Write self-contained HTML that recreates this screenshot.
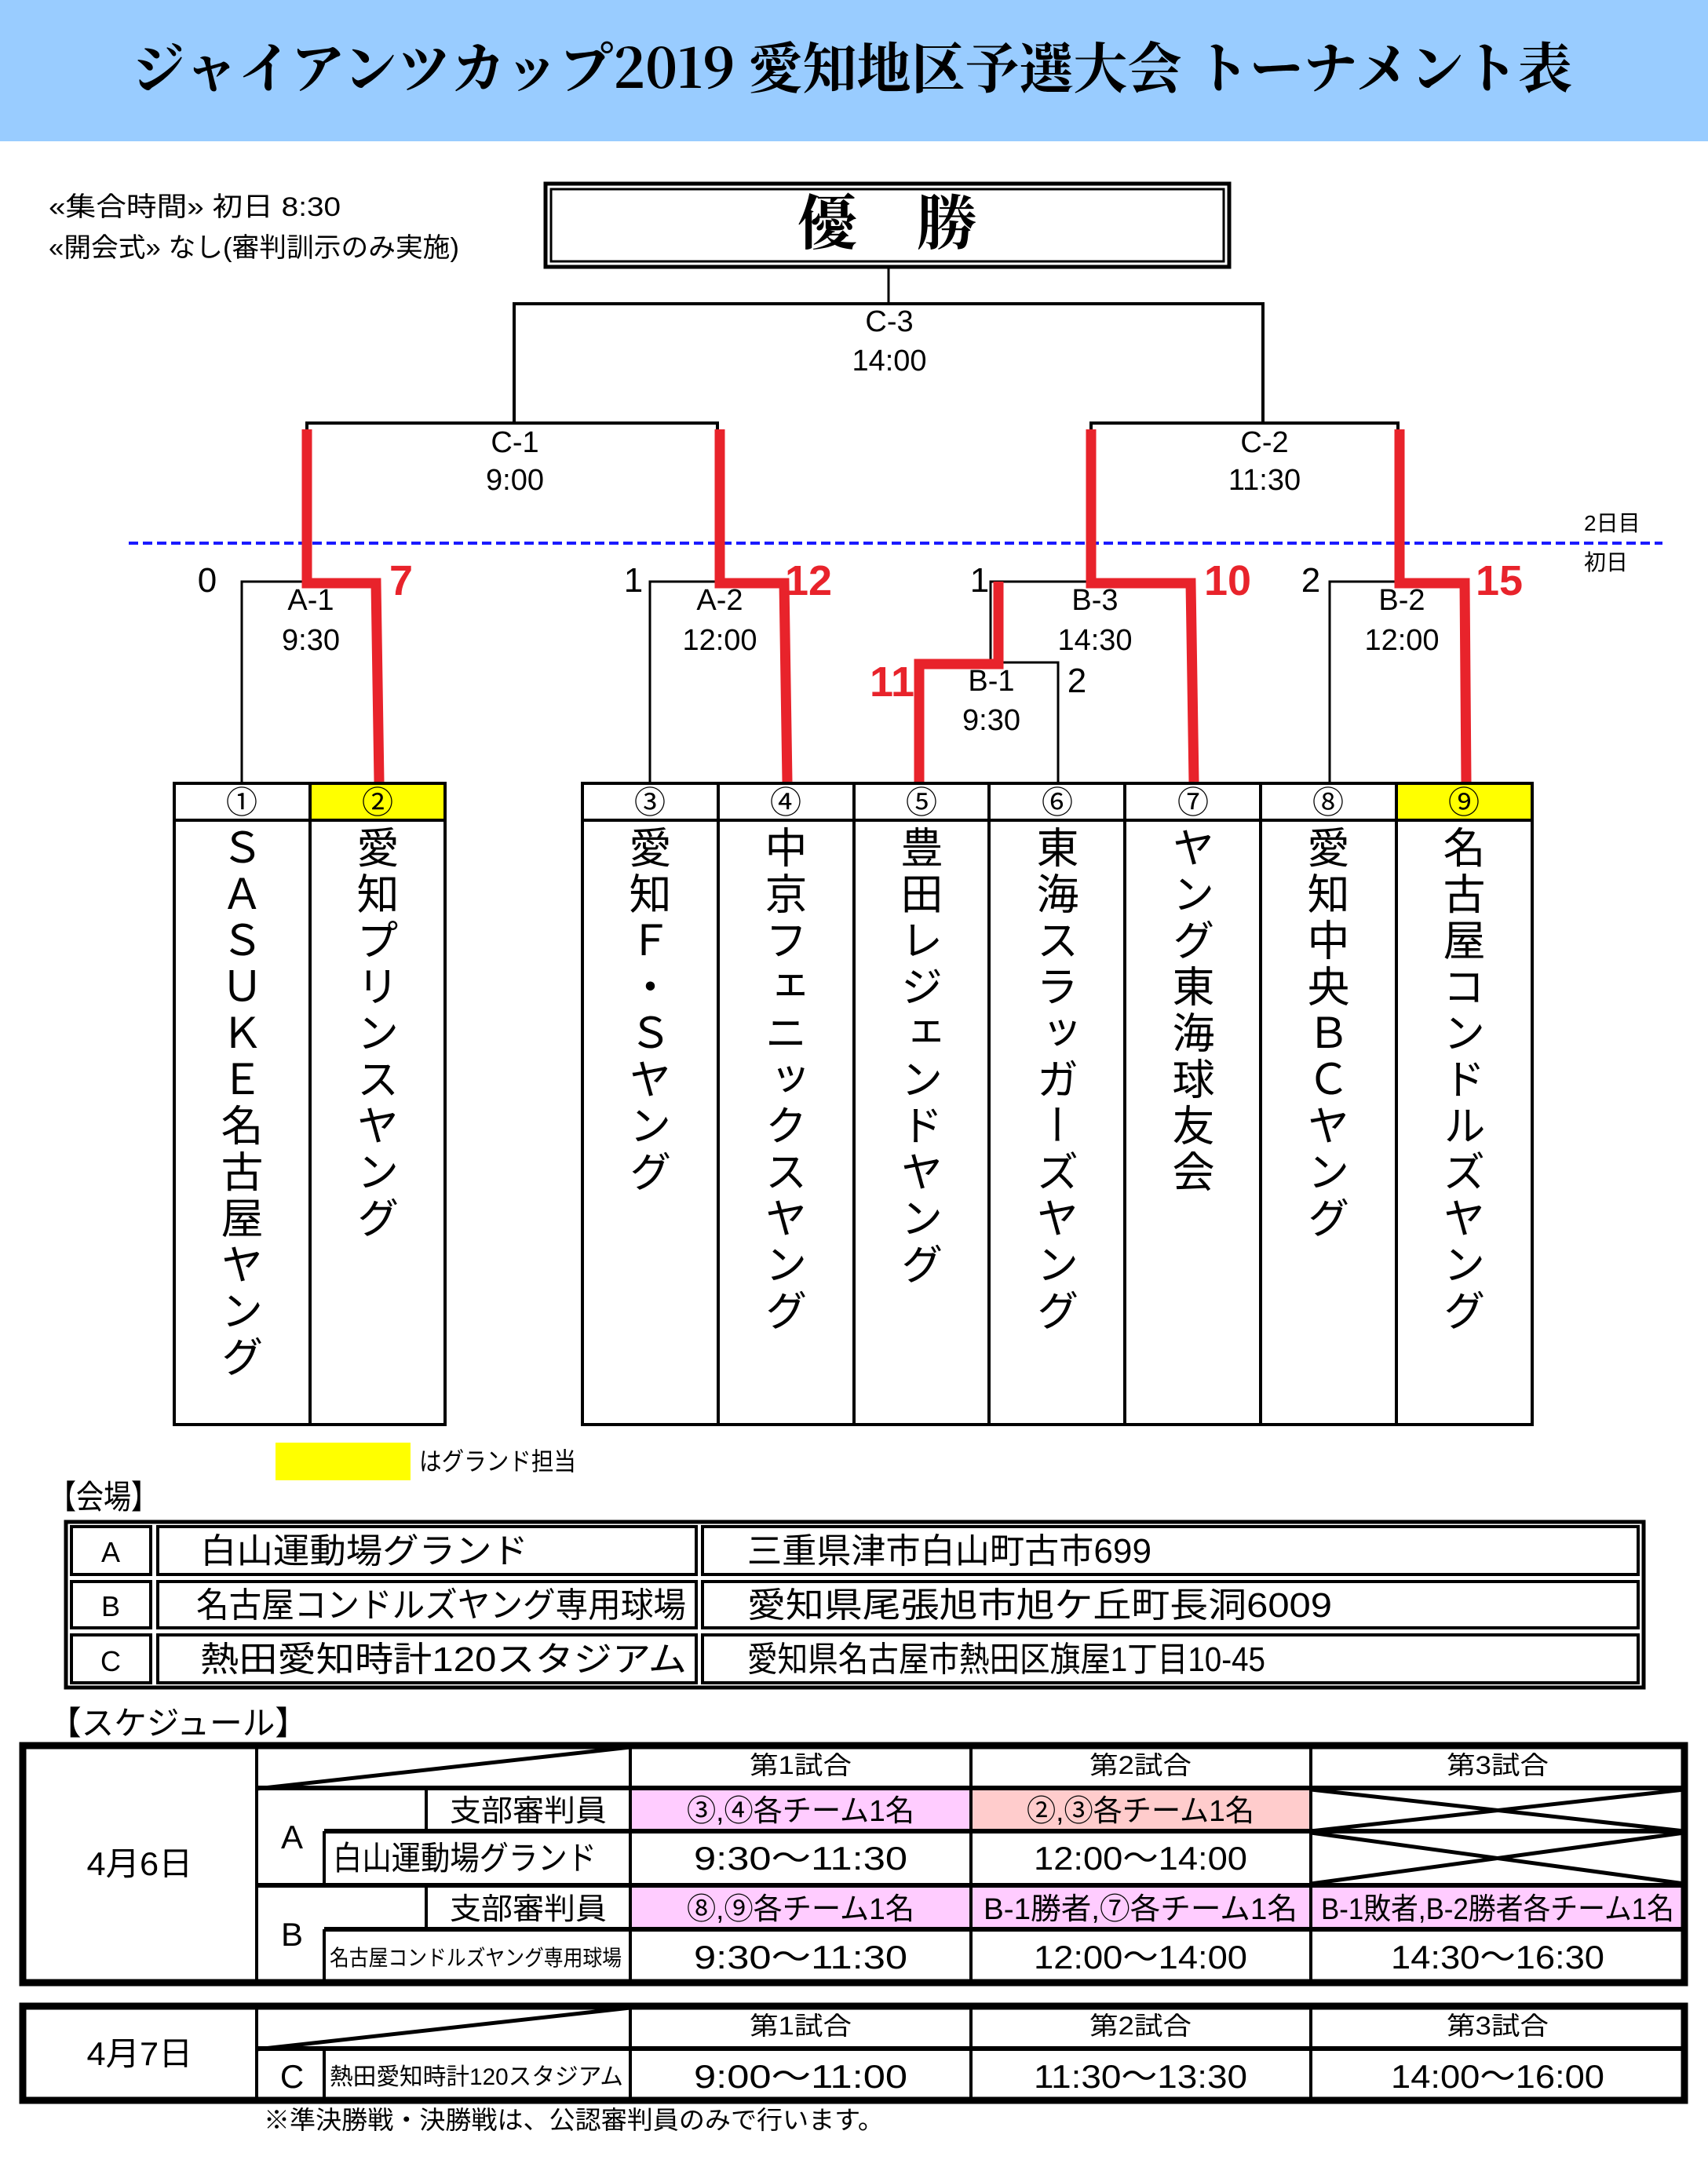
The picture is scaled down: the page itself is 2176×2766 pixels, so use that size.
<!DOCTYPE html>
<html><head><meta charset="utf-8">
<style>
html,body{margin:0;padding:0;background:#fff;}
body{width:2176px;height:2766px;position:relative;overflow:hidden;font-family:"Liberation Sans","Noto Sans CJK JP",sans-serif;}
svg{position:absolute;left:0;top:0;}
.v{position:absolute;writing-mode:vertical-rl;text-orientation:upright;font-size:54px;letter-spacing:5px;line-height:1;color:#000;font-family:"Noto Sans CJK JP",sans-serif;}
</style></head><body>
<svg width="2176" height="2766" viewBox="0 0 2176 2766" font-family="Liberation Sans, Noto Sans CJK JP, sans-serif">
<rect x="0" y="0" width="2176" height="180" fill="#99ccff"/>
<rect x="0" y="180" width="2176" height="2586" fill="#fff"/>
<text x="1085" y="112" text-anchor="middle" font-family="Noto Serif CJK JP, Noto Serif CJK SC, serif" font-weight="bold" font-size="70" textLength="1836" lengthAdjust="spacingAndGlyphs">ジャイアンツカップ2019 愛知地区予選大会 トーナメント表</text>

<text x="62" y="275" font-size="34" textLength="372" lengthAdjust="spacingAndGlyphs">«集合時間» 初日 8:30</text>
<text x="62" y="327" font-size="34" textLength="523" lengthAdjust="spacingAndGlyphs">«開会式» なし(審判訓示のみ実施)</text>

<rect x="695" y="234" width="871" height="106" fill="none" stroke="#000" stroke-width="5"/>
<rect x="702" y="241" width="857" height="92" fill="none" stroke="#000" stroke-width="3"/>
<text x="1130" y="311" text-anchor="middle" font-family="Noto Serif CJK JP, serif" font-weight="bold" font-size="76">優　勝</text>

<g stroke="#000" fill="none">
<line x1="1132" y1="340" x2="1132" y2="387" stroke-width="3"/>
<polyline points="655,537 655,387 1609,387 1609,537" stroke-width="4"/>
<polyline points="391,547 391,539 914,539 914,547" stroke-width="4"/>
<polyline points="1390,547 1390,539 1781,539 1781,547" stroke-width="4"/>
<polyline points="308,996 308,741 481,741" stroke-width="3"/>
<polyline points="828,996 828,741 1001,741" stroke-width="3"/>
<polyline points="1262,846 1262,741 1523,741" stroke-width="3"/>
<polyline points="1171,996 1171,844 1348,844 1348,996" stroke-width="3"/>
<polyline points="1694,996 1694,741 1868,741" stroke-width="3"/>
</g>
<line x1="164" y1="692" x2="2118" y2="692" stroke="#1a1aff" stroke-width="4" stroke-dasharray="12,6"/>
<text x="2018" y="676" font-size="28">2日目</text>
<text x="2018" y="726" font-size="28">初日</text>

<g font-size="38" text-anchor="middle">
<text x="1133" y="422">C-3</text><text x="1133" y="472">14:00</text>
<text x="656" y="576">C-1</text><text x="656" y="624">9:00</text>
<text x="1611" y="576">C-2</text><text x="1611" y="624">11:30</text>
<text x="396" y="777">A-1</text><text x="396" y="828">9:30</text>
<text x="917" y="777">A-2</text><text x="917" y="828">12:00</text>
<text x="1395" y="777">B-3</text><text x="1395" y="828">14:30</text>
<text x="1263" y="880">B-1</text><text x="1263" y="930">9:30</text>
<text x="1786" y="777">B-2</text><text x="1786" y="828">12:00</text>
<text x="264" y="754" font-size="44">0</text>
<text x="807" y="754" font-size="44">1</text>
<text x="1248" y="754" font-size="44">1</text>
<text x="1372" y="882" font-size="44">2</text>
<text x="1670" y="754" font-size="44">2</text>
</g>

<g stroke="#e8232b" stroke-width="13" fill="none" stroke-linejoin="miter">
<polyline points="391,547 391,743 479,743 483,996"/>
<polyline points="917,547 917,743 999,743 1003,996"/>
<polyline points="1390,547 1390,743 1517,743 1521,996"/>
<polyline points="1171,996 1171,846 1272,846 1272,741"/>
<polyline points="1783,547 1783,743 1866,743 1868,996"/>
</g>
<g fill="#e8232b" font-weight="bold" font-size="54" font-family="Liberation Sans, sans-serif">
<text x="496" y="758">7</text>
<text x="1000" y="758">12</text>
<text x="1534" y="758">10</text>
<text x="1108" y="887">11</text>
<text x="1880" y="758">15</text>
</g>

<rect x="395" y="998" width="172" height="47" fill="#ffff00"/>
<rect x="1779" y="998" width="173" height="47" fill="#ffff00"/>
<g stroke="#000" stroke-width="4" fill="none">
<rect x="222" y="998" width="345" height="817"/>
<line x1="222" y1="1045" x2="567" y2="1045"/>
<line x1="395" y1="998" x2="395" y2="1815"/>
<rect x="742" y="998" width="1210" height="817"/>
<line x1="742" y1="1045" x2="1952" y2="1045"/>
<line x1="915" y1="998" x2="915" y2="1815"/>
<line x1="1088" y1="998" x2="1088" y2="1815"/>
<line x1="1260" y1="998" x2="1260" y2="1815"/>
<line x1="1433" y1="998" x2="1433" y2="1815"/>
<line x1="1606" y1="998" x2="1606" y2="1815"/>
<line x1="1779" y1="998" x2="1779" y2="1815"/>
</g>
<g font-size="40" text-anchor="middle" font-family="Noto Sans CJK JP, sans-serif">
<text x="308" y="1036">①</text><text x="481" y="1036">②</text>
<text x="828" y="1036">③</text><text x="1001" y="1036">④</text><text x="1174" y="1036">⑤</text>
<text x="1347" y="1036">⑥</text><text x="1520" y="1036">⑦</text><text x="1692" y="1036">⑧</text><text x="1865" y="1036">⑨</text>
</g>

<rect x="351" y="1838" width="172" height="48" fill="#ffff00"/>
<text x="534" y="1873" font-size="32" textLength="200" lengthAdjust="spacingAndGlyphs">はグランド担当</text>

<text x="62" y="1922" font-size="42" textLength="140" lengthAdjust="spacingAndGlyphs">【会場】</text>
<rect x="84" y="1939" width="2010" height="211" fill="none" stroke="#000" stroke-width="5"/>
<g fill="none" stroke="#000" stroke-width="4">
<rect x="91" y="1945" width="101" height="61"/><rect x="201" y="1945" width="686" height="61"/><rect x="895" y="1945" width="1192" height="61"/>
<rect x="91" y="2015" width="101" height="59"/><rect x="201" y="2015" width="686" height="59"/><rect x="895" y="2015" width="1192" height="59"/>
<rect x="91" y="2083" width="101" height="61"/><rect x="201" y="2083" width="686" height="61"/><rect x="895" y="2083" width="1192" height="61"/>
</g>
<g font-size="44">
<text x="141" y="1990" text-anchor="middle" font-size="36">A</text>
<text x="141" y="2059" text-anchor="middle" font-size="36">B</text>
<text x="141" y="2129" text-anchor="middle" font-size="36">C</text>
<text x="255" y="1991" textLength="418" lengthAdjust="spacingAndGlyphs">白山運動場グランド</text>
<text x="250" y="2060" textLength="624" lengthAdjust="spacingAndGlyphs">名古屋コンドルズヤング専用球場</text>
<text x="255" y="2129" textLength="620" lengthAdjust="spacingAndGlyphs">熱田愛知時計120スタジアム</text>
<text x="952" y="1991" textLength="515" lengthAdjust="spacingAndGlyphs">三重県津市白山町古市699</text>
<text x="952" y="2060" textLength="745" lengthAdjust="spacingAndGlyphs">愛知県尾張旭市旭ケ丘町長洞6009</text>
<text x="952" y="2129" textLength="660" lengthAdjust="spacingAndGlyphs">愛知県名古屋市熱田区旗屋1丁目10-45</text>
</g>

<text x="62" y="2210" font-size="42" textLength="330" lengthAdjust="spacingAndGlyphs">【スケジュール】</text>
<rect x="803" y="2279" width="432" height="54" fill="#ffccff"/>
<rect x="1235" y="2279" width="434" height="54" fill="#ffcccc"/>
<rect x="803" y="2404" width="1343" height="54" fill="#ffccff"/>
<g stroke="#000" fill="none">
<rect x="29" y="2224" width="2117" height="302" stroke-width="9"/>
<line x1="327" y1="2224" x2="327" y2="2526" stroke-width="4"/>
<line x1="803" y1="2224" x2="803" y2="2526" stroke-width="4"/>
<line x1="1237" y1="2224" x2="1237" y2="2526" stroke-width="4"/>
<line x1="1670" y1="2224" x2="1670" y2="2526" stroke-width="4"/>
<line x1="327" y1="2278" x2="2146" y2="2278" stroke-width="6"/>
<line x1="327" y1="2279" x2="803" y2="2226" stroke-width="5"/>
<line x1="543" y1="2278" x2="543" y2="2333" stroke-width="4"/>
<line x1="413" y1="2333" x2="2146" y2="2333" stroke-width="6"/>
<line x1="413" y1="2333" x2="413" y2="2402" stroke-width="4"/>
<line x1="327" y1="2402" x2="2146" y2="2402" stroke-width="6"/>
<line x1="543" y1="2402" x2="543" y2="2458" stroke-width="4"/>
<line x1="413" y1="2458" x2="2146" y2="2458" stroke-width="6"/>
<line x1="413" y1="2458" x2="413" y2="2526" stroke-width="4"/>
<polyline points="1670,2280 2146,2333 1670,2333 2146,2280 z" stroke-width="5"/>
<line x1="1670" y1="2335" x2="2146" y2="2400" stroke-width="5"/>
<line x1="1670" y1="2400" x2="2146" y2="2335" stroke-width="5"/>
<rect x="29" y="2556" width="2117" height="120" stroke-width="9"/>
<line x1="327" y1="2556" x2="327" y2="2676" stroke-width="4"/>
<line x1="803" y1="2556" x2="803" y2="2676" stroke-width="4"/>
<line x1="1237" y1="2556" x2="1237" y2="2676" stroke-width="4"/>
<line x1="1670" y1="2556" x2="1670" y2="2676" stroke-width="4"/>
<line x1="327" y1="2610" x2="2146" y2="2610" stroke-width="6"/>
<line x1="327" y1="2611" x2="803" y2="2558" stroke-width="5"/>
<line x1="413" y1="2610" x2="413" y2="2676" stroke-width="4"/>
</g>
<g font-size="32" text-anchor="middle">
<text x="1020" y="2260" textLength="130" lengthAdjust="spacingAndGlyphs">第1試合</text>
<text x="1453" y="2260" textLength="130" lengthAdjust="spacingAndGlyphs">第2試合</text>
<text x="1908" y="2260" textLength="130" lengthAdjust="spacingAndGlyphs">第3試合</text>
<text x="1020" y="2592" textLength="130" lengthAdjust="spacingAndGlyphs">第1試合</text>
<text x="1453" y="2592" textLength="130" lengthAdjust="spacingAndGlyphs">第2試合</text>
<text x="1908" y="2592" textLength="130" lengthAdjust="spacingAndGlyphs">第3試合</text>
</g>
<g font-size="42" text-anchor="middle">
<text x="178" y="2389" textLength="135" lengthAdjust="spacingAndGlyphs">4月6日</text>
<text x="178" y="2631" textLength="135" lengthAdjust="spacingAndGlyphs">4月7日</text>
<text x="372" y="2355">A</text>
<text x="372" y="2479">B</text>
<text x="372" y="2660">C</text>
<text x="673" y="2320" font-size="38" textLength="200" lengthAdjust="spacingAndGlyphs">支部審判員</text>
<text x="673" y="2445" font-size="38" textLength="200" lengthAdjust="spacingAndGlyphs">支部審判員</text>
<text x="1020" y="2320" font-size="38" textLength="290" lengthAdjust="spacingAndGlyphs">③,④各チーム1名</text>
<text x="1453" y="2320" font-size="38" textLength="290" lengthAdjust="spacingAndGlyphs">②,③各チーム1名</text>
<text x="1020" y="2445" font-size="38" textLength="290" lengthAdjust="spacingAndGlyphs">⑧,⑨各チーム1名</text>
<text x="1453" y="2445" font-size="38" textLength="400" lengthAdjust="spacingAndGlyphs">B-1勝者,⑦各チーム1名</text>
<text x="1908" y="2445" font-size="38" textLength="450" lengthAdjust="spacingAndGlyphs">B-1敗者,B-2勝者各チーム1名</text>
<text x="1020" y="2382" textLength="272" lengthAdjust="spacingAndGlyphs">9:30～11:30</text>
<text x="1453" y="2382" textLength="272" lengthAdjust="spacingAndGlyphs">12:00～14:00</text>
<text x="1020" y="2508" textLength="272" lengthAdjust="spacingAndGlyphs">9:30～11:30</text>
<text x="1453" y="2508" textLength="272" lengthAdjust="spacingAndGlyphs">12:00～14:00</text>
<text x="1908" y="2508" textLength="272" lengthAdjust="spacingAndGlyphs">14:30～16:30</text>
<text x="1020" y="2660" textLength="272" lengthAdjust="spacingAndGlyphs">9:00～11:00</text>
<text x="1453" y="2660" textLength="272" lengthAdjust="spacingAndGlyphs">11:30～13:30</text>
<text x="1908" y="2660" textLength="272" lengthAdjust="spacingAndGlyphs">14:00～16:00</text>
</g>
<text x="424" y="2382" font-size="42" textLength="336" lengthAdjust="spacingAndGlyphs">白山運動場グランド</text>
<text x="420" y="2504" font-size="28" textLength="372" lengthAdjust="spacingAndGlyphs">名古屋コンドルズヤング専用球場</text>
<text x="420" y="2656" font-size="30" textLength="374" lengthAdjust="spacingAndGlyphs">熱田愛知時計120スタジアム</text>
<text x="336" y="2712" font-size="32" textLength="790" lengthAdjust="spacingAndGlyphs">※準決勝戦・決勝戦は、公認審判員のみで行います。</text>
</svg>

<div class="v" style="left:281px;top:1052px;">ＳＡＳＵＫＥ名古屋ヤング</div>
<div class="v" style="left:454px;top:1052px;">愛知プリンスヤング</div>
<div class="v" style="left:801px;top:1052px;">愛知Ｆ・Ｓヤング</div>
<div class="v" style="left:974px;top:1052px;">中京フェニックスヤング</div>
<div class="v" style="left:1147px;top:1052px;">豊田レジェンドヤング</div>
<div class="v" style="left:1320px;top:1052px;">東海スラッガーズヤング</div>
<div class="v" style="left:1493px;top:1052px;">ヤング東海球友会</div>
<div class="v" style="left:1665px;top:1052px;">愛知中央ＢＣヤング</div>
<div class="v" style="left:1838px;top:1052px;">名古屋コンドルズヤング</div>
</body></html>
